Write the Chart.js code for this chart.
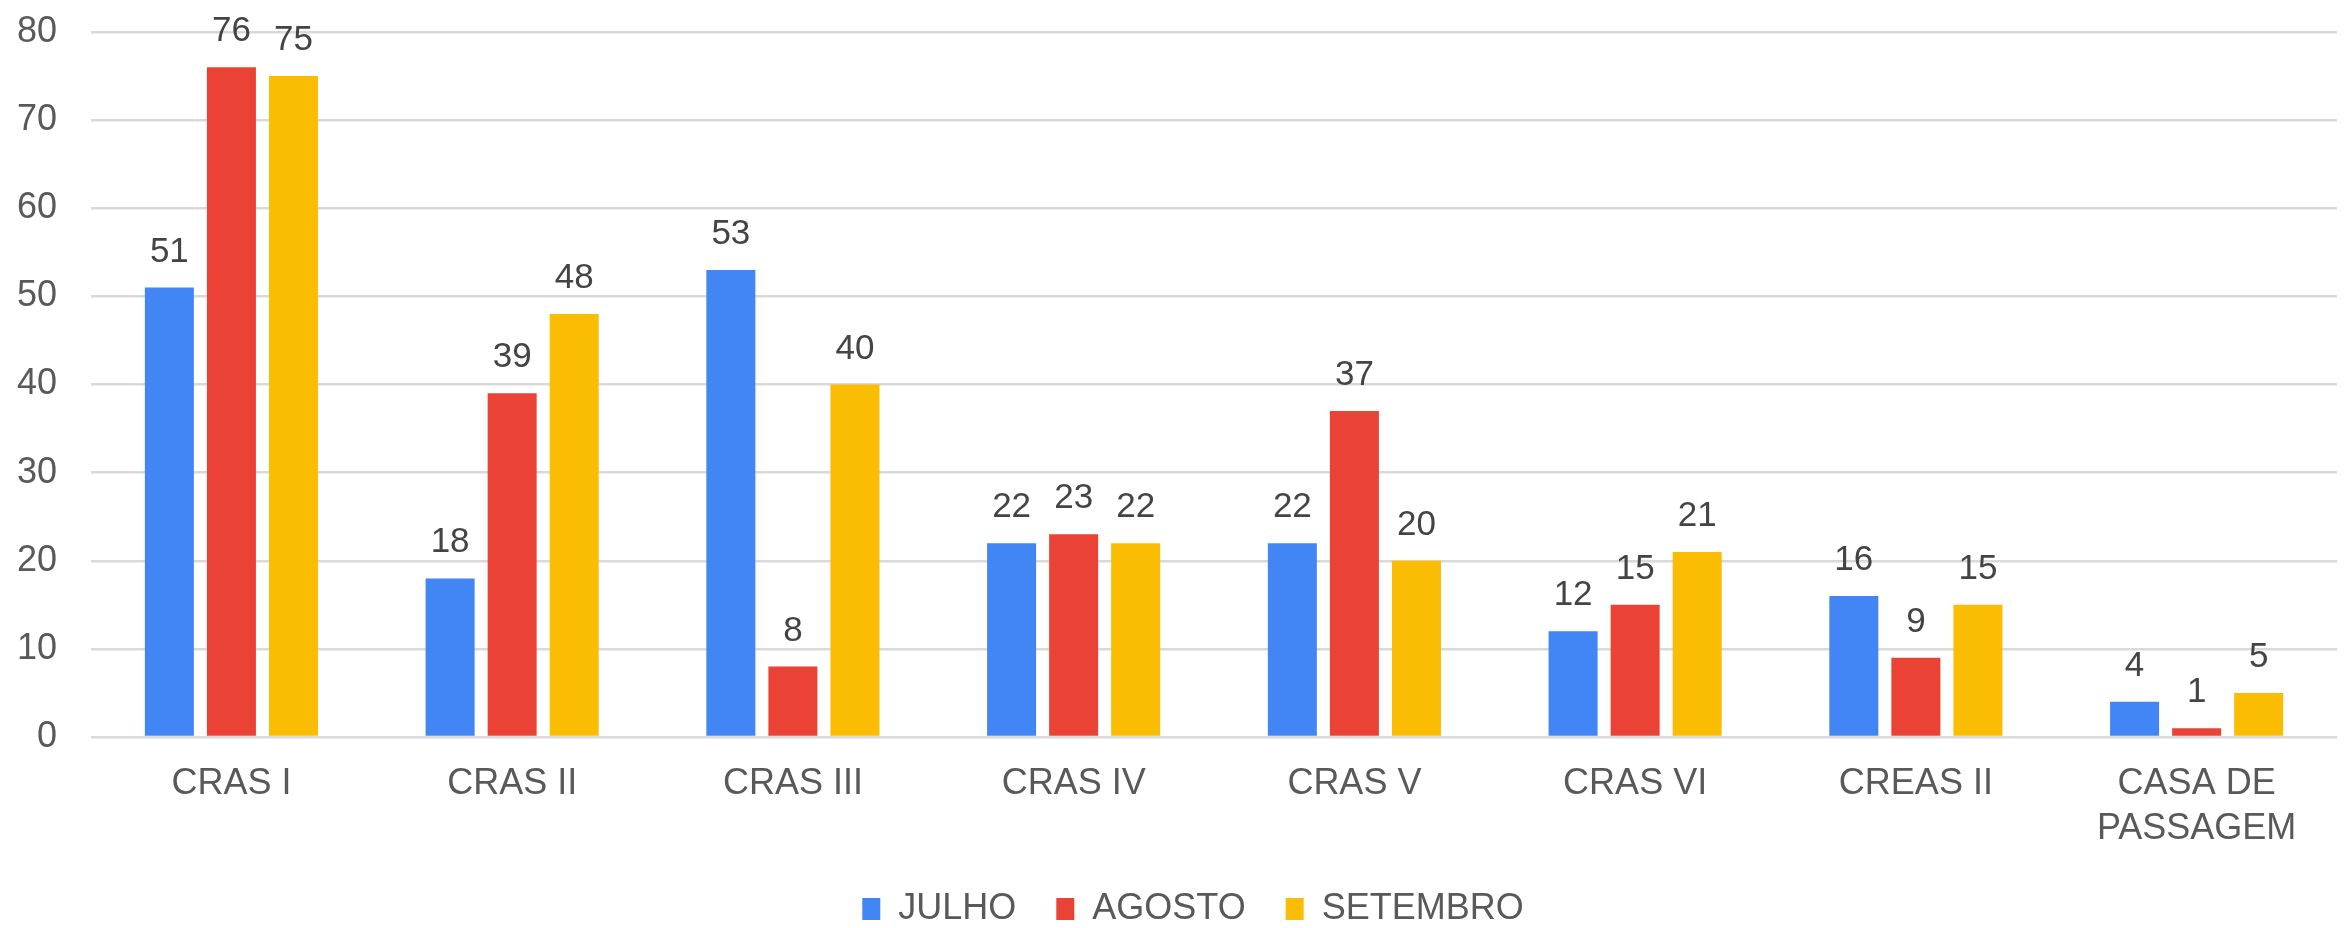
<!DOCTYPE html>
<html>
<head>
<meta charset="utf-8">
<script src="https://cdn.jsdelivr.net/npm/chart.js@4/dist/chart.umd.min.js"></script>
<style>
  html, body { margin: 0; padding: 0; background: #fff; }
  #wrap { width: 2346px; height: 928px; }
</style>
</head>
<body>
<div id="wrap"><canvas id="chart"></canvas></div>
<script>
// categorias e valores
const categories = ['CRAS I', 'CRAS II', 'CRAS III', 'CRAS IV', 'CRAS V', 'CRAS VI', 'CREAS II', ['CASA DE', 'PASSAGEM']];
const julho = [51, 18, 53, 22, 22, 12, 16, 4];
const agosto = [76, 39, 8, 23, 37, 15, 9, 1];
const setembro = [75, 48, 40, 22, 20, 21, 15, 5];
const yTicks = [0, 10, 20, 30, 40, 50, 60, 70, 80];

const FONT = "'Liberation Sans', Arial, sans-serif";

// rótulos de valor acima das barras
const valueLabels = {
    id: 'valueLabels',
    afterDatasetsDraw(chart) {
        const ctx = chart.ctx;
        ctx.save();
        ctx.font = '35px ' + FONT;
        ctx.fillStyle = '#444444';
        ctx.textAlign = 'center';
        ctx.textBaseline = 'alphabetic';
        chart.data.datasets.forEach((ds, i) => {
            const meta = chart.getDatasetMeta(i);
            meta.data.forEach((bar, j) => {
                ctx.fillText(String(ds.data[j]), bar.x, bar.y - 26);
            });
        });
        ctx.restore();
    }
};

// altura fixa da legenda e pequeno deslocamento horizontal
const legendTweak = {
    id: 'legendTweak',
    afterInit(chart) {
        const lg = chart.legend;
        if (!lg) return;
        const fit = lg.fit;
        lg.fit = function() {
            fit.call(this);
            this.height = 77;
        };
    },
    afterLayout(chart) {
        const lg = chart.legend;
        if (!lg) return;
        lg.left += 33;
        lg.right += 33;
    }
};

new Chart(document.getElementById('chart'), {
    type: 'bar',
    data: {
        labels: categories,
        datasets: [
            { label: 'JULHO', data: julho, backgroundColor: '#4285F4' },
            { label: 'AGOSTO', data: agosto, backgroundColor: '#EA4335' },
            { label: 'SETEMBRO', data: setembro, backgroundColor: '#FBBC04' }
        ]
    },
    options: {
        responsive: true,
        maintainAspectRatio: false,
        animation: false,
        layout: { padding: { top: 32, left: -17, right: 9, bottom: 0 } },
        datasets: {
            bar: { categoryPercentage: 0.663, barPercentage: 0.79 }
        },
        plugins: {
            legend: {
                position: 'bottom',
                labels: {
                    font: { family: FONT, size: 36 },
                    color: '#595959',
                    boxWidth: 18,
                    boxHeight: 22,
                    padding: 40
                }
            },
            tooltip: { enabled: false }
        },
        scales: {
            x: {
                grid: { display: false, drawTicks: false },
                border: { display: false },
                afterFit: axis => { axis.height = 114; },
                ticks: {
                    font: { family: FONT, size: 36, lineHeight: 1.25 },
                    color: '#595959',
                    padding: 25,
                    maxRotation: 0,
                    autoSkip: false
                }
            },
            y: {
                min: 0,
                max: 80,
                afterBuildTicks: axis => { axis.ticks = yTicks.map(v => ({ value: v })); },
                afterFit: axis => { axis.paddingTop = 0; axis.paddingBottom = 0; },
                grid: { color: '#d9d9d9', lineWidth: 2.5, drawTicks: false },
                border: { display: false },
                ticks: {
                    font: { family: FONT, size: 36 },
                    color: '#595959',
                    padding: 34
                }
            }
        }
    },
    plugins: [valueLabels, legendTweak]
});
</script>
</body>
</html>
